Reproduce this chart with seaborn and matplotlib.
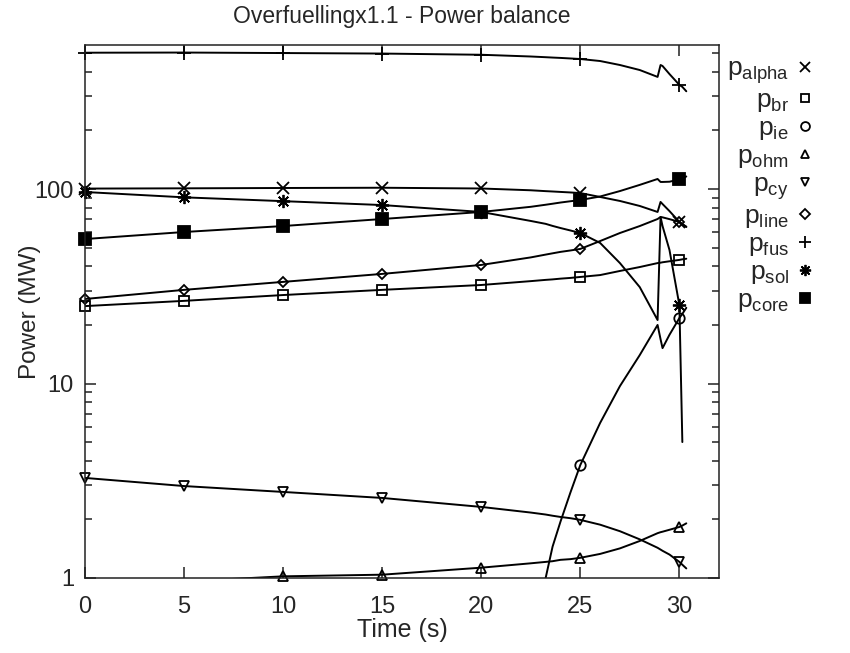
import numpy as np
import pandas as pd
import matplotlib
matplotlib.use("Agg")
import matplotlib.pyplot as plt
import seaborn as sns
from matplotlib.lines import Line2D
from matplotlib.ticker import FixedLocator, FixedFormatter, LogLocator, NullFormatter

nan = np.nan

# time grid (s)
T = [0, 5, 10, 15, 20, 22.5, 23.25, 23.6, 24, 24.5, 25, 26, 27, 28, 28.9, 29.05, 29.15, 29.5, 30, 30.15, 30.35]
# times where markers are shown
T_MARK = [0, 5, 10, 15, 20, 25, 30]

# power (MW)
p_alpha = [100.5, 100.8, 101.2, 101.5, 100.6, 98.5, 97.5, 97.1, 96.6, 96.0, 95.3, 91, 86.8, 81.8, 76.2, 85.8, 83.7, 77, 67.7, 66, 63.8]
p_br = [25.0, 26.6, 28.5, 30.3, 32.1, 33.6, 34.1, 34.3, 34.6, 34.9, 35.3, 36.1, 37.9, 39.7, 41.6, 41.8, 42.0, 42.5, 43.2, 43.5, 43.8]
p_ie = [nan, nan, nan, nan, nan, nan, 1.0, 1.45, 1.95, 2.75, 3.81, 6.27, 9.7, 14.0, 20.0, 16.9, 15.2, 17.8, 21.7, 22.8, 24.5]
p_ohm = [0.92, 0.96, 1.02, 1.04, 1.13, 1.19, 1.21, 1.22, 1.24, 1.25, 1.27, 1.33, 1.42, 1.55, 1.70, 1.72, 1.73, 1.77, 1.83, 1.86, 1.91]
p_cy = [3.27, 2.97, 2.77, 2.58, 2.32, 2.17, 2.12, 2.09, 2.06, 2.03, 1.99, 1.88, 1.74, 1.58, 1.43, 1.40, 1.38, 1.32, 1.21, 1.17, 1.12]
p_line = [27.2, 30.3, 33.3, 36.6, 40.7, 44.5, 46.0, 46.7, 47.5, 48.3, 49.2, 54, 59.4, 64.5, 70.1, 71.8, 71.5, 70, 67.7, 66, 64]
p_fus = [502, 503, 500, 497, 490, 480, 476, 474, 472, 469, 466, 455, 434, 409, 377, 434, 429, 390, 343, 335, 318]
p_sol = [96.5, 90.6, 86.6, 82.7, 76.2, 68.5, 66.2, 64.6, 63.0, 61.2, 59.4, 52.8, 41.6, 31.3, 21.2, 71.8, 64.5, 48.6, 25.3, 5.0, nan]
p_core = [55.3, 60.1, 64.5, 70.1, 76.2, 81, 83, 84, 85.2, 86.5, 87.8, 91.5, 97.6, 105, 112.6, 108.7, 108.7, 109, 112, 113, 116]

LABELS = [r"$\mathregular{p_{alpha}}$", r"$\mathregular{p_{br}}$", r"$\mathregular{p_{ie}}$",
          r"$\mathregular{p_{ohm}}$", r"$\mathregular{p_{cy}}$", r"$\mathregular{p_{line}}$",
          r"$\mathregular{p_{fus}}$", r"$\mathregular{p_{sol}}$", r"$\mathregular{p_{core}}$"]
VALUES = [p_alpha, p_br, p_ie, p_ohm, p_cy, p_line, p_fus, p_sol, p_core]
STYLE = [("x", "none", 8), ("s", "none", 7), ("o", "none", 7.5), ("^", "none", 7.5),
         ("v", "none", 7.5), ("D", "none", 5.5), ("+", "none", 9.5), ((8, 2, 0), "none", 9.5),
         ("s", "black", 8.5)]

sns.set_style("ticks")
plt.rcParams["font.family"] = ["Liberation Sans", "DejaVu Sans"]
plt.rcParams["mathtext.fontset"] = "custom"
plt.rcParams["mathtext.rm"] = "Liberation Sans"
plt.rcParams["mathtext.it"] = "Liberation Sans"
plt.rcParams["axes.linewidth"] = 1.1
plt.rcParams["axes.edgecolor"] = "#222222"

fig = plt.figure(figsize=(8.5, 6.53), dpi=100)
ax = fig.add_axes([85 / 850, 1 - 578 / 653, (719 - 85) / 850, (578 - 45) / 653])

YMIN, YMAX = 1, 550
for vals, (m, fc, ms) in zip(VALUES, STYLE):
    df = pd.DataFrame({"t": T, "v": vals}).dropna()
    sns.lineplot(data=df, x="t", y="v", ax=ax, color="black", lw=1.4,
                 estimator=None, sort=False)
    mk = df[df["t"].isin(T_MARK) & (df["v"] >= YMIN)]
    sns.lineplot(data=mk, x="t", y="v", ax=ax, color="black", linestyle="none",
                 marker=m, ms=ms, mfc=fc, mec="black", mew=1.3,
                 estimator=None, sort=False, clip_on=False)

ax.set_yscale("log")
ax.set_xlim(0, 32)
ax.set_ylim(YMIN, YMAX)
ax.xaxis.set_major_locator(FixedLocator([0, 5, 10, 15, 20, 25, 30]))
ax.yaxis.set_major_locator(FixedLocator([1, 10, 100]))
ax.yaxis.set_major_formatter(FixedFormatter(["1", "10", "100"]))
ax.yaxis.set_minor_locator(LogLocator(base=10, subs=np.arange(2, 10)))
ax.yaxis.set_minor_formatter(NullFormatter())
ax.tick_params(which="both", direction="in", top=True, right=True, color="#222222", width=1.1)
ax.tick_params(which="major", length=8, labelsize=17)
ax.tick_params(which="minor", length=4.8)
ax.tick_params(axis="x", which="major", pad=13)
ax.tick_params(axis="y", which="major", pad=8)

ax.set_xlabel("Time (s)", fontsize=18, labelpad=0)
ax.set_ylabel("Power (MW)", fontsize=17.5, labelpad=-5)
ax.set_title("Overfuellingx1.1 - Power balance", fontsize=16.5, pad=16)

handles = [Line2D([], [], linestyle="none", marker=m, color="black", mfc=fc, mec="black",
                  ms=ms * 0.85, mew=1.3) for (m, fc, ms) in STYLE]
ax.legend(handles, LABELS, loc="upper left", bbox_to_anchor=(0.855, 0.913),
          bbox_transform=fig.transFigure, frameon=False, markerfirst=False,
          fontsize=19, labelspacing=0.08, handlelength=0.6, handletextpad=0.3,
          borderpad=0, borderaxespad=0)

fig.savefig("out.png", dpi=100)
